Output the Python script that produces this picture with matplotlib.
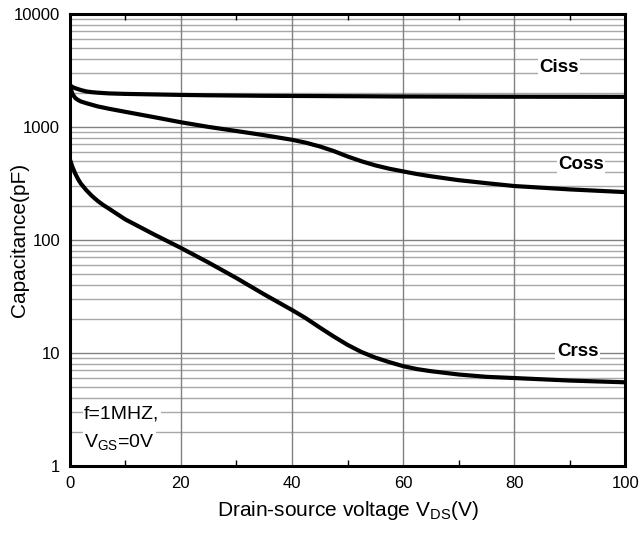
import numpy as np
import matplotlib
matplotlib.use('Agg')
from matplotlib import pyplot as plt
from matplotlib.ticker import FixedLocator, NullFormatter

plt.rcParams['font.family'] = ['Liberation Sans', 'DejaVu Sans']
plt.rcParams['mathtext.fontset'] = 'custom'
plt.rcParams['mathtext.rm'] = 'Liberation Sans'
plt.rcParams['mathtext.it'] = 'Liberation Sans'

# values
vds = [0, 0.5, 1, 1.5, 2, 3, 4, 5, 6, 7, 10, 15, 20, 25, 30, 35, 40, 42.5, 45, 47.5, 50,
       52.5, 55, 57.5, 60, 62.5, 65, 70, 75, 80, 90, 100]
ciss = [2350, 2250, 2200, 2160, 2120, 2060, 2030, 2010, 1995, 1980, 1960, 1940, 1920, 1905,
        1895, 1885, 1880, 1878, 1875, 1872, 1870, 1868, 1865, 1862, 1860, 1859, 1858, 1855,
        1852, 1850, 1848, 1845]
coss = [2300, 1950, 1800, 1730, 1680, 1620, 1570, 1520, 1485, 1450, 1360, 1225, 1100, 1000,
        920, 845, 770, 725, 672, 612, 548, 497, 457, 427, 404, 383, 366, 338, 318, 300, 280, 265]
crss = [520, 440, 385, 345, 315, 275, 245, 222, 204, 190, 152, 113, 85, 63,
        46, 33, 24, 20.3, 16.8, 14, 11.8, 10.2, 9.1, 8.3, 7.65, 7.2, 6.9, 6.45, 6.15, 6.0,
        5.7, 5.5]

x_ticks = [0, 20, 40, 60, 80, 100]
y_ticks = [1, 10, 100, 1000, 10000]
y_tick_labels = ['1', '10', '100', '1000', '10000']

fig = plt.figure(figsize=(6.4, 5.35), dpi=100)
ax = fig.add_axes([0.109, 0.129, 0.868, 0.845])

# grid
minor_y = [m * d for d in [1, 10, 100, 1000] for m in range(2, 10)]
for v in minor_y:
    ax.axhline(v, color='#a8a8a8', lw=1.0, zorder=1)
for v in y_ticks[1:-1]:
    ax.axhline(v, color='#808080', lw=1.0, zorder=1)
for v in x_ticks[1:-1]:
    ax.axvline(v, color='#808080', lw=1.0, zorder=1)

for ys in [ciss, coss, crss]:
    ax.plot(vds, ys, color='black', lw=3.0, solid_capstyle='butt', solid_joinstyle='round', zorder=3)

ax.set_yscale('log')
ax.set_xlim(0, 100)
ax.set_ylim(1, 10000)
ax.set_xticks(x_ticks)
ax.xaxis.set_minor_locator(FixedLocator([10, 30, 50, 70, 90]))
ax.set_yticks(y_ticks)
ax.set_yticklabels(y_tick_labels)
ax.yaxis.set_minor_locator(FixedLocator([]))
ax.yaxis.set_minor_formatter(NullFormatter())
ax.tick_params(axis='both', which='major', direction='in', length=0, labelsize=12, pad=7)
ax.tick_params(axis='x', which='minor', direction='in', length=4, width=1, top=True, bottom=True)

for s in ax.spines.values():
    s.set_linewidth(2.2)
    s.set_zorder(5)

ax.set_xlabel(r'Drain-source voltage V$_{\rm DS}$(V)', fontsize=15, labelpad=6)
ax.set_ylabel('Capacitance(pF)', fontsize=15, va='center')
ax.yaxis.set_label_coords(-0.09, 0.5)

bbox = dict(facecolor='white', edgecolor='none', pad=1)
ax.text(88, 3330, 'Ciss', fontsize=13.5, fontweight='bold', ha='center', va='center', bbox=bbox, zorder=4)
ax.text(92, 461, 'Coss', fontsize=13.5, fontweight='bold', ha='center', va='center', bbox=bbox, zorder=4)
ax.text(91.4, 10.2, 'Crss', fontsize=13.5, fontweight='bold', ha='center', va='center', bbox=bbox, zorder=4)
ax.text(2.6, 2.9, 'f=1MHZ,', fontsize=14, ha='left', va='center', bbox=bbox, zorder=4)
ax.text(2.6, 1.62, r'V$_{\rm GS}$=0V', fontsize=14, ha='left', va='center', bbox=bbox, zorder=4)

plt.savefig('out.png', dpi=100)
